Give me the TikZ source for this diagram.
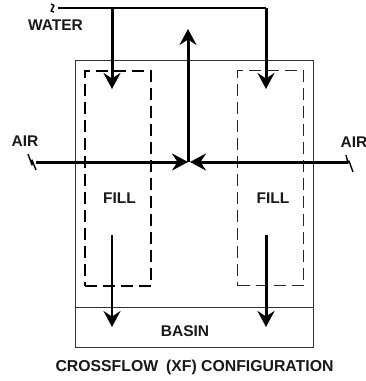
\documentclass[tikz,border=0pt]{standalone}
\usepackage{fontspec}
\setmainfont{Liberation Sans}
\usetikzlibrary{arrows.meta}
\tikzset{
  x=1pt,y=-1pt,
  frame/.style={draw=black!80,line width=1.2pt},
  fillL/.style={draw=black,line width=1.9pt,dash pattern=on 12pt off 6pt},
  fillR/.style={draw=black!85,line width=1.3pt,dash pattern=on 12pt off 6pt},
  flow/.style={draw=black,line width=3pt,-{Stealth[length=16pt,width=17pt,inset=5.5pt]}},
  flowthin/.style={draw=black,line width=2.2pt,-{Stealth[length=16pt,width=17pt,inset=5.5pt]}},
  pipe/.style={draw=black,line width=2.4pt},
  lab/.style={font=\bfseries\fontsize{15.5pt}{17pt}\selectfont,inner sep=0pt,text=black!90},
  caption/.style={font=\bfseries\fontsize{15.8pt}{18pt}\selectfont,inner sep=0pt,text=black!90},
  squig/.style={draw=black,line width=1.4pt,line join=round},
}
\begin{document}
\begin{tikzpicture}
\useasboundingbox (0,0) rectangle (366,381);
\fill[white] (0,0) rectangle (366,381);
% casing
\node[frame,minimum width=238pt,minimum height=287pt,inner sep=0pt,anchor=north west] (casing) at (75,60) {};
\node[frame,minimum width=238pt,minimum height=40pt,inner sep=0pt,anchor=north west,line width=1.4pt] (basin) at (75,307) {};
\node[lab] (basinlabel) at (185,331) {BASIN};
% fill packs
\node[fillL,minimum width=66pt,minimum height=215pt,inner sep=0pt,anchor=north west] (fillA) at (84,70) {};
\node[fillR,minimum width=66pt,minimum height=215pt,inner sep=0pt,anchor=north west] (fillB) at (237,70) {};
\node[lab] (fillAlabel) at (119.5,198) {FILL};
\node[lab] (fillBlabel) at (273,198) {FILL};
% coordinates
\coordinate (wstart) at (58,8);
\coordinate (wa) at (112,8);
\coordinate (wb) at (266,8);
\coordinate (wadown) at (112,89);
\coordinate (wbdown) at (266,89);
\coordinate (airL) at (36,162);
\coordinate (airR) at (348,162);
\coordinate (centre) at (188,162);
\coordinate (centreR) at (190,162);
\coordinate (top) at (188,29);
\coordinate (dropAs) at (112,235);
\coordinate (dropAe) at (112,327);
\coordinate (dropBs) at (266,235);
\coordinate (dropBe) at (266,327);
% water
\draw[pipe] (wstart) -- (wb);
\draw[flow] (wa) -- (wadown);
\draw[flow] (wb) -- (wbdown);
\draw[squig] (51,4) -- (54,5.5) -- (51,11) -- (54,12);
\node[lab] (waterlabel) at (55.5,25.5) {WATER};
% air
\draw[flow] (airL) -- (centre);
\draw[flow] (airR) -- (centreR);
\draw[flow] (centre) -- (top);
\draw[squig] (28,154) -- (32,165) -- (32,160) -- (36,170);
\draw[squig] (346,155) -- (348,163) -- (349,161) -- (353,172);
\node[lab] (airLlabel) at (25,141) {AIR};
\node[lab] (airRlabel) at (354,142) {AIR};
% falling water
\draw[flowthin] (dropAs) -- (dropAe);
\draw[flow] (dropBs) -- (dropBe);
\node[caption] (captionlabel) at (194.5,367) {CROSSFLOW\hspace{0.5em}(XF) CONFIGURATION};
\end{tikzpicture}
\end{document}
